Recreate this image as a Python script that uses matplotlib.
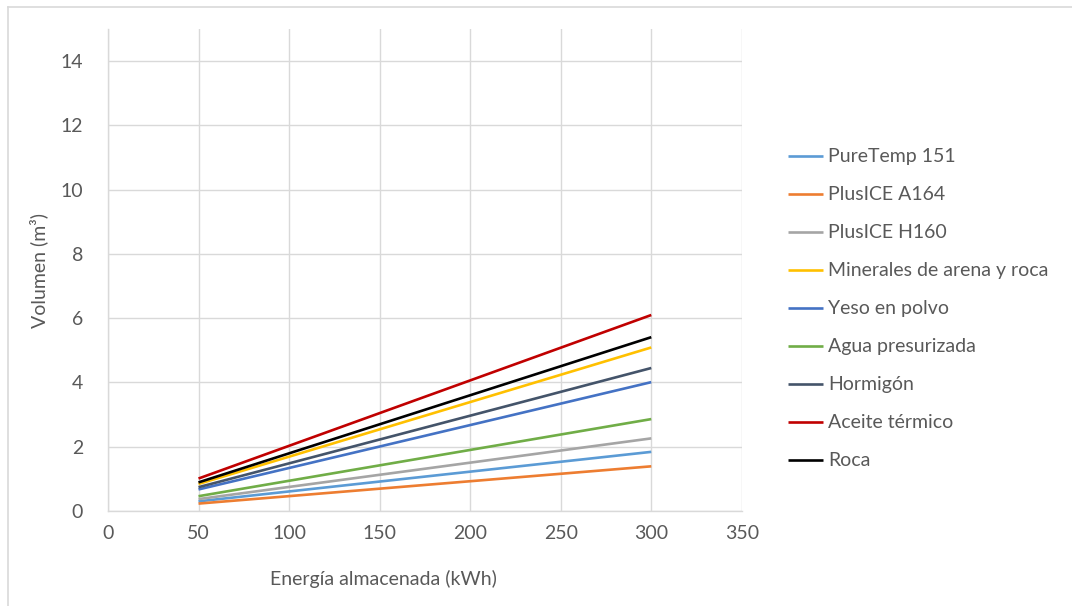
import matplotlib.pyplot as plt
from matplotlib.lines import Line2D

# Stored energy (kWh) at the ends of each line
energia = [50, 300]

# Volume (m3) needed by each storage material
materiales = ["PureTemp 151", "PlusICE A164", "PlusICE H160",
              "Minerales de arena y roca", "Yeso en polvo", "Agua presurizada",
              "Hormigón", "Aceite térmico", "Roca"]
puretemp_151 = [0.30, 1.84]
plusice_a164 = [0.23, 1.39]
plusice_h160 = [0.37, 2.26]
minerales = [0.84, 5.09]
yeso = [0.67, 4.01]
agua = [0.46, 2.86]
hormigon = [0.74, 4.45]
aceite = [1.01, 6.10]
roca = [0.89, 5.41]

series = [puretemp_151, plusice_a164, plusice_h160, minerales, yeso,
          agua, hormigon, aceite, roca]
colores = ["#5B9BD5", "#ED7D31", "#A5A5A5", "#FFC000", "#4472C4",
           "#70AD47", "#44546A", "#C00000", "#000000"]

plt.rcParams['font.family'] = ['Lato', 'DejaVu Sans']
gris_texto = "#595959"
gris_rejilla = "#D9D9D9"
tam = 14

fig = plt.figure(figsize=(10.72, 6.06), dpi=100)
ax = fig.add_axes([0.1007, 0.1568, 0.5913, 0.7952])

for nombre, valores, c in zip(materiales, series, colores):
    ax.plot(energia, valores, color=c, lw=1.9, label=nombre,
            solid_capstyle='butt')

ax.set_xlim(0, 350)
ax.set_ylim(0, 15)
ax.set_xticks(range(0, 351, 50))
ax.set_yticks(range(0, 15, 2))
ax.grid(True, color=gris_rejilla, lw=1)
ax.set_axisbelow(True)
for lado in ["top", "right"]:
    ax.spines[lado].set_visible(False)
for lado in ["left", "bottom"]:
    ax.spines[lado].set_color(gris_rejilla)
    ax.spines[lado].set_linewidth(1)
ax.tick_params(length=0, labelsize=tam, labelcolor=gris_texto, pad=10)
ax.tick_params(axis='y', pad=18)

ax.set_xlabel("Energía almacenada (kWh)", fontsize=tam, color=gris_texto)
ax.xaxis.set_label_coords(0.434, -0.123)
ax.set_ylabel("Volumen (m³)", fontsize=tam, color=gris_texto, labelpad=9)

leg = fig.legend(loc="upper left", bbox_to_anchor=(0.719, 0.784),
                 frameon=False, fontsize=tam, handlelength=1.8,
                 handletextpad=0.26, labelspacing=1.08)
for t in leg.get_texts():
    t.set_color(gris_texto)

# chart border: only the top and left edges fall inside the figure
fig.lines.append(Line2D([0.0075, 1.0], [0.989, 0.989], transform=fig.transFigure,
                        color=gris_rejilla, lw=1.2))
fig.lines.append(Line2D([0.0075, 0.0075], [0.0, 0.989], transform=fig.transFigure,
                        color=gris_rejilla, lw=1.2))

fig.savefig("out.png", dpi=100)
